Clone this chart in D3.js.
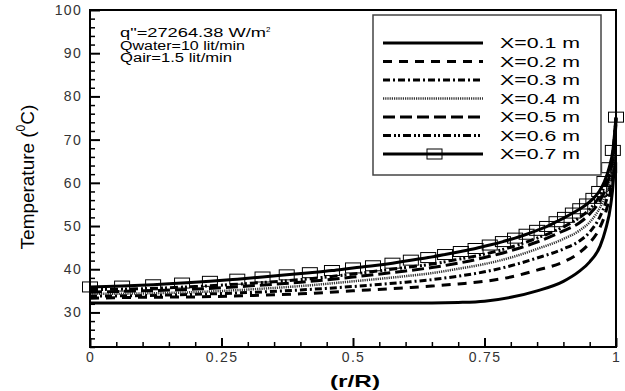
<!DOCTYPE html>
<html><head><meta charset="utf-8">
<script src="https://cdn.jsdelivr.net/npm/d3@7/dist/d3.min.js"></script>
<style>
body{margin:0;background:#fff}
svg{display:block}
text{font-family:Arial,"Liberation Sans",sans-serif}
</style>
</head><body>
<svg id="c" width="625" height="391"></svg>
<script>
// ---- data ----
const rGrid = [0, 0.1, 0.2, 0.3, 0.4, 0.5, 0.6, 0.65, 0.7, 0.75, 0.8, 0.85, 0.9, 0.93, 0.95, 0.97, 0.98, 0.99, 0.995, 1];
const tX01 = [32.2, 32.2, 32.2, 32.2, 32.2, 32.2, 32.2, 32.2, 32.3, 32.6, 33.5, 35.0, 37.2, 39.5, 41.7, 45.4, 49.1, 54.9, 60.7, 75];
const tX02 = [33.3, 33.5, 33.6, 33.9, 34.3, 35.0, 35.7, 36.1, 36.6, 37.2, 38.2, 39.8, 41.7, 43.8, 46.1, 49.8, 53.0, 58.3, 63.0, 75];
const tX03 = [33.8, 33.9, 34.2, 34.6, 35.2, 36.0, 37.0, 37.6, 38.4, 39.4, 40.8, 42.6, 44.7, 46.5, 48.6, 52.3, 55.3, 60.2, 64.6, 75];
const tX04 = [34.3, 34.4, 34.7, 35.3, 36.1, 37.2, 38.4, 39.1, 40.1, 41.2, 42.7, 44.7, 47.0, 48.9, 50.9, 54.4, 57.2, 61.6, 65.8, 75];
const tX05 = [34.7, 35.0, 35.4, 36.1, 37.0, 38.2, 39.6, 40.4, 41.4, 42.7, 44.3, 46.3, 48.9, 50.7, 52.8, 56.0, 58.6, 63.0, 66.9, 75];
const tX06 = [35.3, 35.5, 36.0, 36.7, 37.6, 38.9, 40.4, 41.2, 42.3, 43.5, 45.1, 47.2, 49.8, 51.9, 53.9, 57.2, 59.7, 64.1, 68.1, 75];
const rMark = [0, 0.061, 0.12, 0.175, 0.228, 0.28, 0.328, 0.374, 0.418, 0.46, 0.5, 0.538, 0.575, 0.61, 0.643, 0.675, 0.705, 0.733, 0.76, 0.785, 0.808, 0.83, 0.85, 0.869, 0.887, 0.903, 0.918, 0.932, 0.945, 0.957, 0.968, 0.978, 0.987, 0.994, 1.0];
const tX07 = [35.9, 36.1, 36.4, 36.8, 37.2, 37.7, 38.2, 38.7, 39.2, 39.7, 40.3, 40.8, 41.4, 42.1, 42.7, 43.4, 44.1, 44.8, 45.6, 46.4, 47.2, 48.1, 49.0, 49.9, 51.0, 52.0, 53.0, 54.0, 55.1, 56.4, 58.0, 60.3, 63.5, 67.5, 75.2];
const seriesNames = ["X=0.1 m", "X=0.2 m", "X=0.3 m", "X=0.4 m", "X=0.5 m", "X=0.6 m", "X=0.7 m"];
const xMajor = [0, 0.25, 0.5, 0.75, 1];
const xMajorLabels = ["0", "0.25", "0.5", "0.75", "1"];
const yMajor = [30, 40, 50, 60, 70, 80, 90, 100];
const annotLines = ["q\"=27264.38 W/m", "Qwater=10 lit/min", "Qair=1.5 lit/min"];

// ---- layout ----
const svg = d3.select("#c");
const L = 90, R = 616, T = 10, B = 347;
const x = d3.scaleLinear().domain([0, 1]).range([L, R]);
const y = d3.scaleLinear().domain([22, 100]).range([B, T]);

const series = [
  {r: rGrid, t: tX01, dash: null, w: 3, col: "#000"},
  {r: rGrid, t: tX02, dash: "9,7", w: 3, col: "#000"},
  {r: rGrid, t: tX03, dash: "7,3,2,3", w: 3, col: "#000"},
  {r: rGrid, t: tX04, dash: "1.2,1", w: 2.5, col: "#333"},
  {r: rGrid, t: tX05, dash: "12,5", w: 3, col: "#000"},
  {r: rGrid, t: tX06, dash: "8,3,2,2,2,3", w: 3, col: "#000"},
  {r: rMark, t: tX07, dash: null, w: 3, col: "#000", marker: true}
];

// minor ticks
const xMinor = d3.range(0, 1.0001, 0.05).filter(v => !xMajor.some(m => Math.abs(m - v) < 1e-6));
const yMinor = d3.range(22, 100.001, 2).filter(v => v % 10 !== 0);

svg.append("g").attr("transform", `translate(0,${B})`)
  .call(d3.axisBottom(x).tickValues(xMinor).tickSize(-5).tickFormat(""))
  .call(g => g.select(".domain").remove())
  .selectAll("line").attr("stroke", "#000").attr("stroke-width", 1.5);
svg.append("g").attr("transform", `translate(${L},0)`)
  .call(d3.axisLeft(y).tickValues(yMinor).tickSize(-5).tickFormat(""))
  .call(g => g.select(".domain").remove())
  .selectAll("line").attr("stroke", "#000").attr("stroke-width", 1.5);

const gx = svg.append("g").attr("transform", `translate(0,${B})`)
  .call(d3.axisBottom(x).tickValues(xMajor).tickSize(-9).tickPadding(5)
    .tickFormat((d, i) => xMajorLabels[i]));
gx.select(".domain").remove();
gx.selectAll("line").attr("stroke", "#000").attr("stroke-width", 2);
gx.selectAll("text").attr("font-size", 14).attr("fill", "#333").attr("font-family", "Arial,Liberation Sans,sans-serif").attr("letter-spacing", 1.3);

const gy = svg.append("g").attr("transform", `translate(${L},0)`)
  .call(d3.axisLeft(y).tickValues(yMajor).tickSize(-10).tickPadding(8));
gy.select(".domain").remove();
gy.selectAll("line").attr("stroke", "#000").attr("stroke-width", 2);
gy.selectAll("text").attr("font-size", 14).attr("fill", "#333").attr("font-family", "Arial,Liberation Sans,sans-serif").attr("letter-spacing", 1.3);

// curves
const line = d3.line().x(d => x(d[0])).y(d => y(d[1])).curve(d3.curveMonotoneX);
series.forEach(s => {
  const pts = s.r.map((r, i) => [r, s.t[i]]);
  svg.append("path").datum(pts).attr("d", line)
    .attr("fill", "none").attr("stroke", s.col).attr("stroke-width", s.w)
    .attr("stroke-dasharray", s.dash).attr("stroke-linejoin", "round");
  if (s.marker) {
    svg.append("g").selectAll("rect").data(pts).join("rect")
      .attr("x", d => x(d[0]) - 7.5).attr("y", d => y(d[1]) - 5)
      .attr("width", 15).attr("height", 10)
      .attr("fill", "none").attr("stroke", "#000").attr("stroke-width", 1);
  }
});

// frame
svg.append("rect").attr("x", L).attr("y", T).attr("width", R - L).attr("height", B - T)
  .attr("fill", "none").attr("stroke", "#000").attr("stroke-width", 2);

// legend
const lg = svg.append("g");
lg.append("rect").attr("x", 373).attr("y", 15).attr("width", 228).attr("height", 160)
  .attr("fill", "#fff").attr("stroke", "#444").attr("stroke-width", 1.5);
const ly = d3.scalePoint().domain(seriesNames).range([43, 154]);
series.forEach((s, i) => {
  const yy = ly(seriesNames[i]);
  lg.append("line").attr("x1", 383).attr("x2", 483).attr("y1", yy).attr("y2", yy)
    .attr("stroke", s.col).attr("stroke-width", s.w).attr("stroke-dasharray", s.dash);
  if (s.marker) {
    lg.append("rect").attr("x", 427).attr("y", yy - 5).attr("width", 15).attr("height", 10)
      .attr("fill", "none").attr("stroke", "#000").attr("stroke-width", 1);
  }
  lg.append("text").attr("x", 500).attr("y", yy + 5).attr("font-size", 14.5)
    .attr("textLength", 80).attr("lengthAdjust", "spacingAndGlyphs")
    .attr("fill", "#000").text(seriesNames[i]);
});

// annotation
const an = svg.append("g");
const annotLen = [146, 125, 112];
annotLines.forEach((t, i) => {
  const tx = an.append("text").attr("x", 120).attr("y", 37 + i * 12.5)
    .attr("font-size", 12.5).attr("fill", "#000");
  tx.append("tspan").attr("textLength", annotLen[i]).attr("lengthAdjust", "spacingAndGlyphs").text(t);
  if (i === 0) tx.append("tspan").attr("font-size", 8).attr("dy", -5).text("2");
});

// axis titles
const yl = svg.append("text").attr("transform", "translate(34,177) rotate(-90)")
  .attr("text-anchor", "middle").attr("font-size", 19).attr("fill", "#000");
yl.append("tspan").attr("textLength", 118).attr("lengthAdjust", "spacingAndGlyphs").text("Temperature (");
yl.append("tspan").attr("font-size", 12).attr("dy", -9).text("0");
yl.append("tspan").attr("dy", 9).text("C)");

svg.append("text").attr("x", 355).attr("y", 387).attr("text-anchor", "middle")
  .attr("font-size", 17).attr("font-weight", "bold").attr("fill", "#000")
  .attr("textLength", 50).attr("lengthAdjust", "spacingAndGlyphs").text("(r/R)");
</script>
</body></html>
